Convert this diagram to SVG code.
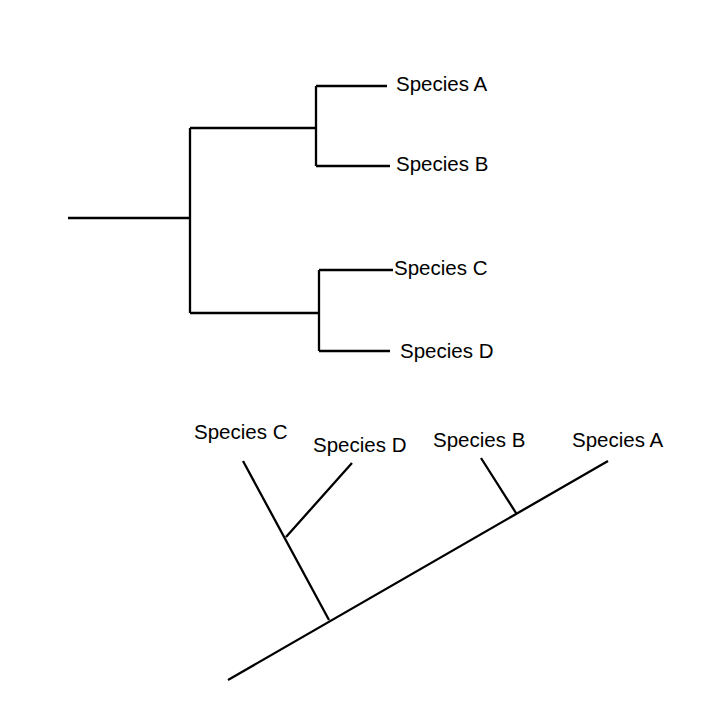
<svg xmlns="http://www.w3.org/2000/svg" width="720" height="720" viewBox="0 0 720 720">
<style>
.l{stroke:#000;stroke-width:2.3;fill:none}
text{font-family:"Liberation Sans",Arial,sans-serif;font-size:20.5px;fill:#000}
</style>
<rect width="720" height="720" fill="#fff"/>
<g id="connectors">
<path class="l" d="M68 218H190M190 128V313M190 128H316M316 86V166M316 86H387M316 166H390M190 313H319M319 270V351M319 270H393M319 351H390"/>
<path class="l" d="M228 680L608 461M243 461L329 620M352 463L286 537M481 458L516 513"/>
</g>
<g id="topA"><text x="396" y="91">Species A</text></g>
<g id="topB"><text x="396" y="171">Species B</text></g>
<g id="topC"><text x="394" y="275">Species C</text></g>
<g id="topD"><text x="400" y="358">Species D</text></g>
<g id="botC"><text x="194" y="439">Species C</text></g>
<g id="botD"><text x="313" y="452">Species D</text></g>
<g id="botB"><text x="433" y="447">Species B</text></g>
<g id="botA"><text x="572" y="447">Species A</text></g>
</svg>
